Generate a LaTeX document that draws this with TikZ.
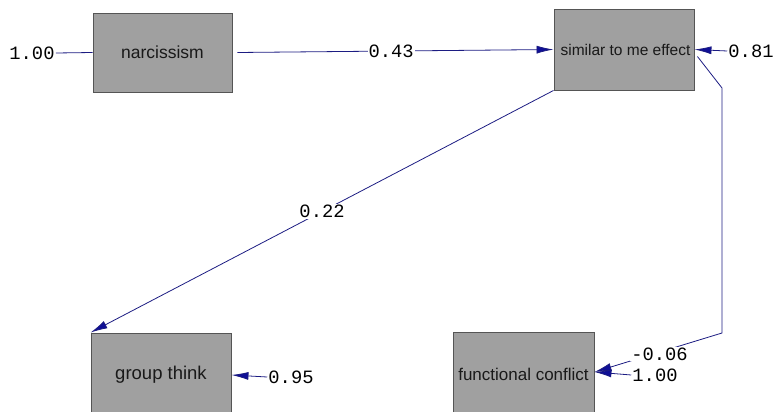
\documentclass[tikz,border=0pt]{standalone}
\usepackage{fontspec}
\setmainfont{Liberation Sans}
\newfontfamily\labfont{Liberation Mono}
\usetikzlibrary{arrows.meta}
\definecolor{navy}{RGB}{28,28,130}
\definecolor{tipblue}{RGB}{15,15,150}
\definecolor{boxfill}{RGB}{160,160,160}
\definecolor{boxline}{RGB}{85,85,85}
\definecolor{boxtext}{RGB}{25,25,25}
\begin{document}
\begin{tikzpicture}[x=1pt,y=-1pt,
  varbox/.style={draw=boxline, line width=0.9pt, fill=boxfill, text=boxtext, inner sep=0pt},
  coef/.style={font=\labfont\fontsize{18.8}{20}\selectfont, inner sep=1pt, text=black},
  onlab/.style={coef, fill=white},
  link/.style={draw=navy, line width=0.8pt},
  arr/.style={link, -{Latex[length=17pt,width=8pt,fill=tipblue]}}
]
\useasboundingbox (0,0) rectangle (776,412);
\clip (0,0) rectangle (776,412);

% variables
\node[varbox, minimum width=139pt, minimum height=79pt, font=\fontsize{17.5}{20}\selectfont] (narc) at (162.5,52.5) {narcissism};
\node[varbox, minimum width=140pt, minimum height=81pt, font=\fontsize{15.5}{18}\selectfont] (sim) at (624,49.5) {\hspace*{3pt}similar to me effect};
\node[varbox, minimum width=140pt, minimum height=84pt, font=\fontsize{18.5}{20}\selectfont] (gt) at (161,375) {group think};
\node[varbox, minimum width=141pt, minimum height=84pt, font=\fontsize{17}{20}\selectfont] (fc) at (523.5,374) {functional conflict};

% error / variance labels
\node[coef] (e1) at (32,53) {1.00};
\node[coef] (e2) at (751,51) {0.81};
\node[coef] (e3) at (291,377) {0.95};
\node[coef] (e4) at (655,375) {1.00};

\coordinate (b1) at (722,88);
\coordinate (b2) at (722,333);

% connectors
\draw[link] (e1.east) -- (narc.west);
\draw[arr] ([xshift=5pt]narc.east) -- node[onlab, pos=0.486] (l43) {0.43} (sim.west);
\draw[arr] (e2.west) -- (sim.east);
\draw[arr] (sim.south west) -- node[onlab, pos=0.5] (l22) {0.22} (gt.north west);
\draw[arr] (e3.west) -- (gt.east);
\draw[arr] ([xshift=3pt,yshift=-7pt]sim.east) -- (b1) -- (b2) -- node[onlab, pos=0.49, yshift=-2pt] (l06) {-0.06} ([yshift=2pt]fc.east);
\draw[arr] (e4.west) -- ([yshift=2pt]fc.east);
\end{tikzpicture}
\end{document}
